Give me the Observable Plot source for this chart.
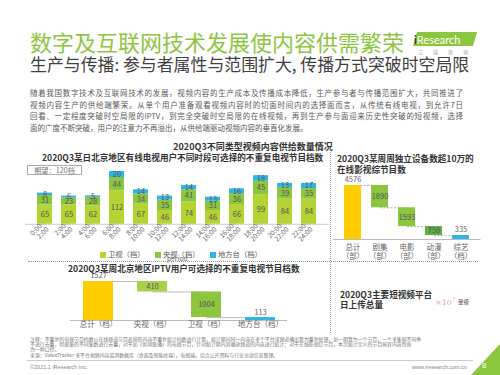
<!DOCTYPE html>
<html><head><meta charset="utf-8">
<script src="https://cdn.jsdelivr.net/npm/d3@7"></script>
<script src="https://cdn.jsdelivr.net/npm/@observablehq/plot@0.6"></script>
<style>
body{margin:0;background:#fff;}
#page{position:relative;width:500px;height:375px;overflow:hidden;font-family:"Noto Sans CJK SC","Noto Sans",sans-serif;color:#595959;}
.a{position:absolute;white-space:nowrap;line-height:1;}
.para{position:absolute;left:30px;width:433px;font-size:7.5px;line-height:1;color:#595959;white-space:nowrap;}
.just{text-align:justify;text-align-last:justify;}
.ct{font-weight:bold;color:#333;font-size:8.6px;}
.lg{position:absolute;top:251.5px;width:6px;height:6px;}
.lgt{position:absolute;top:250.8px;font-size:7.3px;color:#555;line-height:1;white-space:nowrap;}
.note{position:absolute;left:30px;font-size:4.9px;color:#777;line-height:1;white-space:nowrap;}
</style></head>
<body><div id="page">
  <div class="a" style="left:30px;top:30px;font-size:22px;color:#8CC63F;">数字及互联网技术发展使内容供需繁荣</div>
  <div class="a" style="left:413px;top:32px;width:64px;height:14px;background:#8CC63F;clip-path:polygon(4px 0,100% 0,60px 100%,0 100%);"></div>
  <div class="a" style="left:414px;top:33.5px;font-family:Lato,'Open Sans',sans-serif;font-size:11px;color:#fff;"><span style="color:#333;font-weight:bold;">i</span>Research</div>
  <div class="a" style="left:418px;top:48.5px;font-size:5px;color:#999;letter-spacing:10px;">艾瑞咨询</div>
  <div class="a" style="left:30px;top:55.5px;font-size:16.9px;color:#404040;">生产与传播: 参与者属性与范围扩大, 传播方式突破时空局限</div>

  <div class="para just" style="top:89px;">随着我国数字技术及互联网技术的发展，视频内容的生产成本及传播成本降低，生产参与者与传播范围扩大，共同推进了</div>
  <div class="para just" style="top:100.5px;">视频内容生产的供给端繁荣。从单个用户准备观看视频内容时的切面时间内的选择面而言，从传统有线电视，到允许7日</div>
  <div class="para just" style="top:112px;">回看、一定程度突破时空局限的IPTV，到完全突破时空局限的在线视频，再到生产参与面迎来历史性突破的短视频，选择</div>
  <div class="para" style="top:123.5px;">面的广度不断突破，用户的注意力不再溢出，从供给端驱动视频内容的垂直化发展。</div>

  <div class="a" style="left:0;width:506px;top:142px;text-align:center;font-size:9px;font-weight:bold;color:#333;">2020Q3不同类型视频内容供给数量情况</div>
  <div class="a ct" style="left:42px;top:152.7px;">2020Q3某日北京地区有线电视用户不同时段可选择的不重复电视节目档数</div>
  <div class="a ct" style="left:337px;top:152.7px;line-height:11px;">2020Q3某周周独立设备数超10万的<br>在线影视综节目数</div>
  <div class="a" style="left:27px;top:165px;width:53px;height:8px;border:1px solid #aaa;font-size:7.2px;color:#777;line-height:8px;text-align:center;">期望：120档</div>

  <div class="a" style="left:330px;top:150px;height:183px;border-left:1px dotted #999;"></div>
  <div class="a" style="left:28px;top:260.5px;width:450px;border-top:1px dotted #999;"></div>

  <div id="chartA" class="a" style="left:0;top:160px;"></div>
  <div id="chartB" class="a" style="left:330px;top:172px;"></div>
  <div id="chartC" class="a" style="left:0;top:266px;"></div>
  <div id="legend"></div>

  <div class="a ct" style="left:68px;top:263.7px;">2020Q3某周北京地区IPTV用户可选择的不重复电视节目档数</div>
  <div class="a ct" style="left:340px;top:288.5px;line-height:10.5px;">2020Q3主要短视频平台<br>日上传总量</div>
  <div class="a" style="left:435px;top:297px;font-size:8px;color:#E8A1B4;font-family:'DejaVu Serif',serif;">×10<sup style="font-size:5px;">7</sup></div>
  <div class="a" style="left:458px;top:299.5px;font-size:5.5px;color:#555;">量级</div>

  <div class="note" style="top:336.5px;">注释：不重复的电视节目档数以在线频道节目表按照内容不重复统计档数进行计算，统计期间同一内容在多个平台或频道播出算为重复处理，如一期算为一个节目，一个多集剧不同季</div>
  <div class="note" style="top:341.5px;">不进行去重，但剧集的不同集数进行去重，对于如《新闻联播》的电视节目，针对统计期内其播放频道的内容进行统计；对于在线影视综节目，本次统计定义的节目按其内容性质</div>
  <div class="note" style="top:346.5px;">为一种口径。</div>
  <div class="note" style="top:352.5px;">来源：VideoTracker 多平台视频内容监测数据库（桌面及智能终端），电视端，综合公开资料与行业访谈信息整理。</div>
  <div class="a" style="left:27px;top:360px;width:446px;border-top:1px solid #ccc;"></div>
  <div class="a" style="left:30px;top:364.5px;font-size:5.5px;color:#888;font-family:'Liberation Sans',sans-serif;">©2021.1 iResearch Inc.</div>
  <div class="a" style="left:412px;top:364.5px;font-size:5.5px;color:#888;font-family:'Liberation Sans',sans-serif;">www.iresearch.com.cn</div>
  <div class="a" style="left:471px;top:344px;width:29px;height:31px;background:#8CC63F;clip-path:polygon(100% 0,100% 100%,0 100%);"></div>
  <div class="a" style="left:482px;top:362px;font-size:8px;color:#fff;font-family:'Liberation Sans',sans-serif;">8</div>
</div>
<script>
const FONT = '"Noto Sans CJK SC", "Noto Sans", sans-serif';

// ---- Data: cable TV channels per time slot (stacked) ----
const periods = ["0:00-2:00","2:00-4:00","4:00-6:00","6:00-8:00","8:00-10:00","10:00-12:00","12:00-14:00","14:00-16:00","16:00-18:00","18:00-20:00","20:00-22:00","22:00-24:00"];
const satelliteTV = [65,65,62,112,67,46,74,46,66,99,84,84];
const cctvTV = [31,23,28,44,34,35,41,31,36,45,39,35];
const localTV = [8,6,5,20,14,13,14,13,16,18,13,17];
const stackTypes = ["卫视（档）","央视（档）","地方台（档）"];
const stackColors = ["#B6D334","#8CC63F","#2DB6E5"];

// ---- Data: online titles (waterfall) ----
const onlineCats = ["总计（部）","剧集（部）","电影（部）","动漫（部）","综艺（档）"];
const onlineVals = [4576,1890,1593,758,335];
const onlineColors = ["#FFCC00","#8CC63F","#8CC63F","#5FAE45","#2DB6E5"];

// ---- Data: IPTV channels (waterfall) ----
const iptvCats = ["总计（档）","央视（档）","卫视（档）","地方台（档）"];
const iptvVals = [1527,410,1004,113];
const iptvColors = ["#FFCC00","#A9D04B","#8CC63F","#2DB6E5"];

const stackData = [];
periods.forEach((p, i) => {
  [satelliteTV, cctvTV, localTV].forEach((arr, k) => stackData.push({period: p, type: stackTypes[k], value: arr[i]}));
});

function waterfall(cats, vals) {
  let level = vals[0];
  const rows = [{cat: cats[0], y1: 0, y2: vals[0], v: vals[0], outside: true}];
  for (let i = 1; i < cats.length; i++) {
    const top = level; level -= vals[i];
    rows.push({cat: cats[i], y1: level, y2: top, v: vals[i], outside: i === cats.length - 1});
  }
  return rows;
}
function connectors(rows) {
  return rows.slice(0, -1).map((r, i) => ({a: r.cat, b: rows[i + 1].cat, y: rows[i + 1].y2}));
}
const label = d => String(d.v);
const baseStyle = {fontFamily: FONT, fontSize: "7.5px", color: "#666", background: "transparent", overflow: "visible"};

// Chart A: stacked bars
const chartA = Plot.plot({
  width: 340, height: 103,
  marginLeft: 25, marginRight: 11.4, marginTop: 3.8, marginBottom: 39.2,
  x: {domain: periods, padding: 0.39, axis: null},
  y: {domain: [0, 200], axis: null},
  color: {domain: stackTypes, range: stackColors},
  style: baseStyle,
  marks: [
    Plot.barY(stackData, {x: "period", y: "value", fill: "type"}),
    Plot.text(stackData, Plot.stackY({x: "period", y: "value", z: "type", text: d => String(d.value), fill: "#555", fontSize: 7.5})),
    Plot.ruleY([0], {stroke: "#ccc"}),
    Plot.axisX({tickRotate: -45, tickSize: 0, tickPadding: 1.5, fontSize: 6.8, lineHeight: 1.05, tickFormat: d => d.replace("-", "-\n")})
  ]
});
document.getElementById("chartA").appendChild(chartA);

// Chart B: online waterfall
const wfB = waterfall(onlineCats, onlineVals);
const chartB = Plot.plot({
  width: 155, height: 89,
  marginLeft: 2.5, marginRight: 4.5, marginTop: 8, marginBottom: 22,
  x: {domain: onlineCats, padding: 0.38, axis: null},
  y: {domain: [0, 5000], axis: null},
  color: {domain: onlineCats, range: onlineColors},
  style: baseStyle,
  marks: [
    Plot.ruleY([0], {stroke: "#bbb"}),
    Plot.link(connectors(wfB), {x1: "a", x2: "b", y1: "y", y2: "y", stroke: "#999", strokeDasharray: "2,1.5", strokeWidth: 0.8}),
    Plot.barY(wfB, {x: "cat", y1: "y1", y2: "y2", fill: "cat"}),
    Plot.text(wfB.filter(d => d.outside), {x: "cat", y: "y2", text: label, dy: -5.5, fill: "#666", fontSize: 7.5}),
    Plot.text(wfB.filter(d => !d.outside), {x: "cat", y: d => (d.y1 + d.y2) / 2, text: label, fill: "#555", fontSize: 7.5}),
    Plot.axisX({tickSize: 0, tickPadding: 4, fontSize: 7.5, lineHeight: 1.2, tickFormat: d => d.replace("（", "\n（")})
  ]
});
document.getElementById("chartB").appendChild(chartB);

// Chart C: IPTV waterfall
const wfC = waterfall(iptvCats, iptvVals);
const chartC = Plot.plot({
  width: 300, height: 68,
  marginLeft: 70, marginRight: 13, marginTop: 10.6, marginBottom: 14,
  x: {domain: iptvCats, paddingInner: 0.45, paddingOuter: 0.2, axis: null},
  y: {domain: [0, 1700], axis: null},
  color: {domain: iptvCats, range: iptvColors},
  style: baseStyle,
  marks: [
    Plot.ruleY([0], {stroke: "#bbb"}),
    Plot.link(connectors(wfC), {x1: "a", x2: "b", y1: "y", y2: "y", stroke: "#aaa", strokeWidth: 0.8}),
    Plot.barY(wfC, {x: "cat", y1: "y1", y2: "y2", fill: "cat"}),
    Plot.text(wfC.filter(d => d.outside), {x: "cat", y: "y2", text: label, dy: -5.5, fill: "#666", fontSize: 7.5}),
    Plot.text(wfC.filter(d => !d.outside), {x: "cat", y: d => (d.y1 + d.y2) / 2, text: label, fill: "#555", fontSize: 7.5}),
    Plot.axisX({tickSize: 0, tickPadding: 1.5, fontSize: 7.5})
  ]
});
document.getElementById("chartC").appendChild(chartC);

// Legend for chart A
const lg = document.getElementById("legend");
const lgX = [100, 155, 210];
stackTypes.forEach((t, i) => {
  const sq = document.createElement("div"); sq.className = "lg";
  sq.style.left = lgX[i] + "px"; sq.style.background = stackColors[i]; lg.appendChild(sq);
  const tx = document.createElement("div"); tx.className = "lgt";
  tx.style.left = (lgX[i] + 8) + "px"; tx.textContent = t; lg.appendChild(tx);
});
</script>
</body></html>
